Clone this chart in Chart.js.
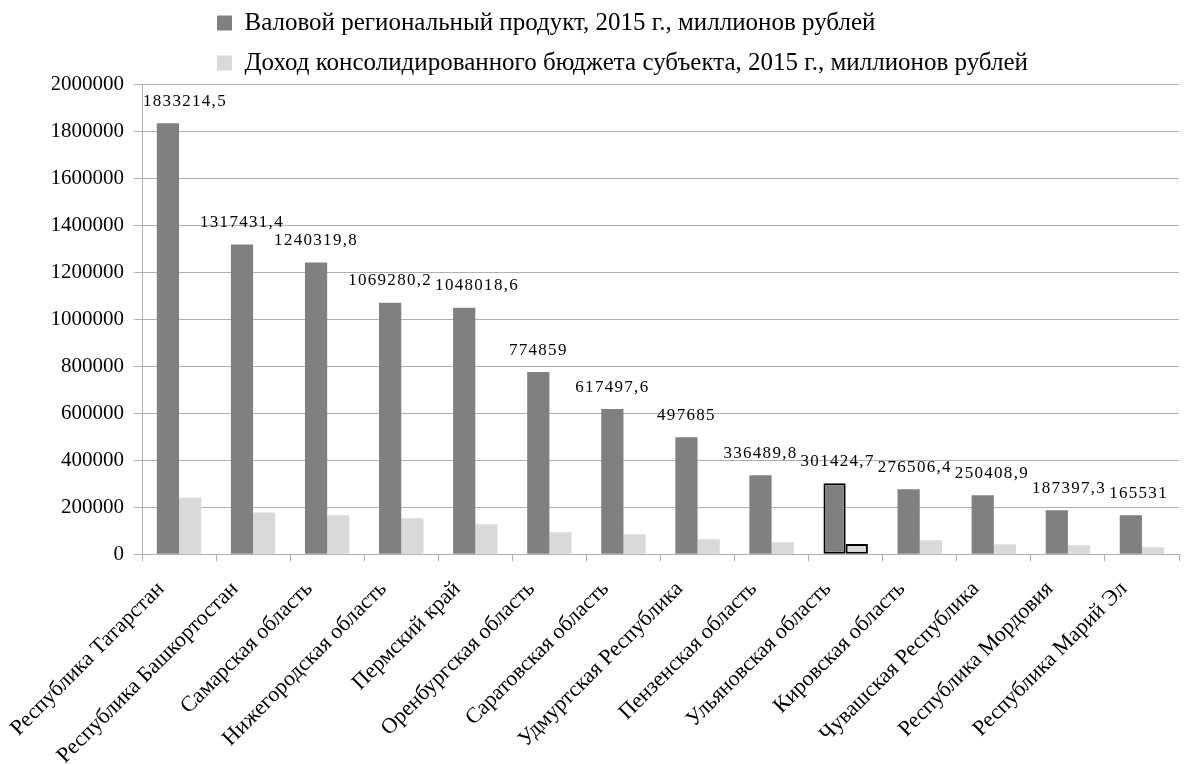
<!DOCTYPE html>
<html lang="ru">
<head>
<meta charset="utf-8">
<title>ВРП и доходы бюджета, 2015</title>
<script src="https://cdn.jsdelivr.net/npm/chart.js@4.4.1/dist/chart.umd.min.js"></script>
<style>
  html, body { margin: 0; padding: 0; background: #fff; }
  #wrap { width: 1186px; height: 765px; position: relative; }
</style>
</head>
<body>
<div id="wrap"><canvas id="chart"></canvas></div>
<script>
  'use strict';

  const regions = [
    'Республика Татарстан',
    'Республика Башкортостан',
    'Самарская область',
    'Нижегородская область',
    'Пермский край',
    'Оренбургская область',
    'Саратовская область',
    'Удмуртская Республика',
    'Пензенская область',
    'Ульяновская область',
    'Кировская область',
    'Чувашская Республика',
    'Республика Мордовия',
    'Республика Марий Эл'
  ];

  // ВРП, млн руб. (from the data labels)
  const grpValues = [
    1833214.5, 1317431.4, 1240319.8, 1069280.2, 1048018.6, 774859, 617497.6,
    497685, 336489.8, 301424.7, 276506.4, 250408.9, 187397.3, 165531
  ];

  // доходы консолидированного бюджета, млн руб.
  const budgetValues = [
    240000, 178000, 166000, 153000, 128000, 94000, 85000,
    64000, 51000, 44000, 60000, 43000, 38000, 30000
  ];

  const seriesNames = [
    'Валовой региональный продукт, 2015 г., миллионов рублей',
    'Доход консолидированного бюджета субъекта, 2015 г., миллионов рублей'
  ];

  const highlighted = 'Ульяновская область';
  const highlightIdx = regions.indexOf(highlighted);

  const FONT = "'Liberation Serif', 'Times New Roman', serif";
  const GRID = '#b0b0b0';

  const edge = ctx => (ctx.dataIndex === highlightIdx ? 2 : 0);

  // value labels above the GRP bars; kept inside the plot and nudged
  // sideways only when they would actually run into the previous one
  const valueLabels = {
    id: 'valueLabels',
    afterDatasetsDraw(chart) {
      const { ctx, chartArea } = chart;
      const meta = chart.getDatasetMeta(0);
      ctx.save();
      ctx.font = '17px ' + FONT;
      ctx.fillStyle = '#000';
      ctx.textBaseline = 'middle';
      ctx.textAlign = 'left';
      if ('letterSpacing' in ctx) ctx.letterSpacing = '1.3px';
      let prevRight = -Infinity, prevY = -Infinity;
      meta.data.forEach((bar, i) => {
        const txt = String(grpValues[i]).replace('.', ',');
        const w = ctx.measureText(txt).width;
        const y = bar.y - 22;
        let x = bar.x - w / 2;
        if (x < chartArea.left) x = chartArea.left + 1;
        if (Math.abs(y - prevY) < 16 && x < prevRight) x = prevRight + 3;
        ctx.fillText(txt, x, y);
        prevRight = x + w;
        prevY = y;
      });
      ctx.restore();
    }
  };

  // legend rows left-aligned at the spot they have in the original
  const legendPlace = {
    id: 'legendPlace',
    beforeDraw(chart) {
      const lg = chart.legend;
      if (!lg) return;
      const pad = lg.options.labels.padding;
      lg.left = 217 - pad;
      lg.top = 23 - 12.5 - pad;
    }
  };

  new Chart(document.getElementById('chart'), {
    type: 'bar',
    data: {
      labels: regions,
      datasets: [
        {
          label: seriesNames[0],
          data: grpValues,
          backgroundColor: '#808080',
          borderColor: '#000',
          borderWidth: edge,
          borderSkipped: false
        },
        {
          label: seriesNames[1],
          data: budgetValues,
          backgroundColor: '#d9d9d9',
          borderColor: '#000',
          borderWidth: edge,
          borderSkipped: false
        }
      ]
    },
    options: {
      responsive: true,
      maintainAspectRatio: false,
      animation: false,
      categoryPercentage: 0.6,
      barPercentage: 1.0,
      layout: { padding: { left: 52, right: 7, top: -6, bottom: -19 } },
      plugins: {
        legend: {
          position: 'top',
          align: 'start',
          labels: {
            font: { family: FONT, size: 25 },
            color: '#000',
            boxWidth: 15,
            boxHeight: 15,
            padding: 15
          }
        },
        tooltip: { enabled: false }
      },
      scales: {
        x: {
          grid: {
            display: true,
            drawOnChartArea: false,
            drawTicks: true,
            tickLength: 7,
            color: GRID
          },
          border: { display: true, color: GRID },
          ticks: {
            autoSkip: false,
            maxRotation: 45,
            minRotation: 45,
            padding: 15,
            labelOffset: -18,
            color: '#000',
            font: { family: FONT, size: 22 }
          }
        },
        y: {
          min: 0,
          max: 2000000,
          afterFit: scale => { scale.width = 90; },
          grid: { color: GRID, tickLength: 8 },
          border: { display: true, color: GRID },
          ticks: {
            stepSize: 200000,
            padding: 10,
            color: '#000',
            font: { family: FONT, size: 21 },
            callback: v => String(v)
          }
        }
      }
    },
    plugins: [valueLabels, legendPlace]
  });
</script>
</body>
</html>
